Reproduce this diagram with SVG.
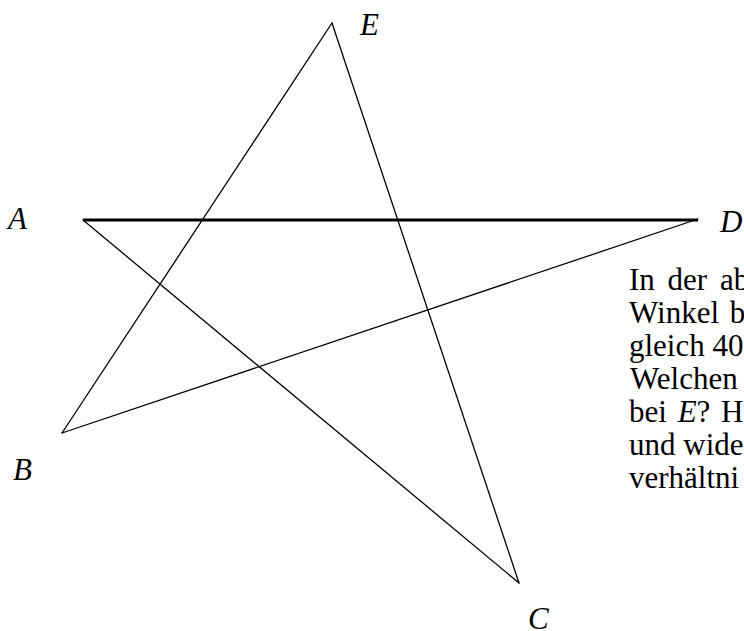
<svg xmlns="http://www.w3.org/2000/svg" width="744" height="631" viewBox="0 0 744 631">
<style>
.ln{stroke:#000;stroke-width:1.3;fill:none;stroke-linecap:round}
.thick{stroke:#000;stroke-width:3;fill:none}
.lbl{font-family:"Liberation Serif",serif;font-style:italic;font-size:31px;fill:#000}
.txt{font-family:"Liberation Serif",serif;font-size:31px;fill:#000}
</style>
<rect width="744" height="631" fill="#fff"/>
<g id="connectors">
<line class="thick" x1="83" y1="220" x2="698" y2="220"/>
<line class="ln" x1="332" y1="23" x2="62" y2="433"/>
<line class="ln" x1="62" y1="433" x2="698" y2="219"/>
<line class="ln" x1="83" y1="220" x2="519" y2="583"/>
<line class="ln" x1="519" y1="583" x2="332" y2="23"/>
</g>
<g id="node-A"><text class="lbl" x="8" y="229">A</text></g>
<g id="node-E"><text class="lbl" x="360" y="35">E</text></g>
<g id="node-B"><text class="lbl" x="13" y="480">B</text></g>
<g id="node-C"><text class="lbl" x="528" y="629">C</text></g>
<g id="node-D"><text class="lbl" x="720" y="232">D</text></g>
<g id="text">
<text class="txt" x="629" y="290" word-spacing="5">In der ab</text>
<text class="txt" x="629" y="323" word-spacing="3">Winkel b</text>
<text class="txt" x="629" y="356">gleich 40</text>
<text class="txt" x="630" y="389">Welchen</text>
<text class="txt" x="629" y="422" word-spacing="3">bei <tspan font-style="italic">E</tspan>? H</text>
<text class="txt" x="629" y="455">und wide</text>
<text class="txt" x="629" y="488">verhältni</text>
</g>
</svg>
